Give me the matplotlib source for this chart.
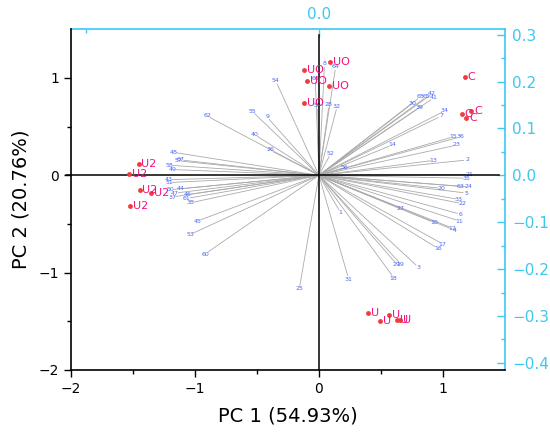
import matplotlib
matplotlib.use("Agg")
import matplotlib.pyplot as plt
import numpy as np

# ---- sample scores (PC1, PC2) ----
score_labels = ["UO", "UO", "UO", "UO", "UO",
                "C", "C", "C", "C",
                "U2", "U2", "U2", "U2", "U2",
                "U", "U", "U", "U", "U"]
score_pc1 = [0.088, -0.119, -0.094, 0.082, -0.122,
             1.177, 1.152, 1.226, 1.186,
             -1.453, -1.528, -1.445, -1.349, -1.520,
             0.396, 0.495, 0.565, 0.630, 0.654]
score_pc2 = [1.168, 1.086, 0.969, 0.914, 0.740,
             1.007, 0.634, 0.664, 0.586,
             0.120, 0.010, -0.147, -0.178, -0.315,
             -1.415, -1.494, -1.439, -1.483, -1.490]

# ---- variable loadings (PC1, PC2) ----
load_labels = ["8", "64", "66", "59", "28", "32", "54", "62", "55", "9", "40", "26", "52", "56",
               "30", "39", "68", "65", "42", "41", "34", "7", "15", "36", "14", "23", "13", "2",
               "21", "35", "20", "63", "24", "5", "33", "22", "27", "6", "11", "10", "12", "4",
               "17", "16", "1", "29", "19", "3", "18", "31", "25",
               "48", "57", "67", "58", "49", "43", "51", "50", "47", "44", "37", "46", "61",
               "38", "45", "53", "60"]
load_pc1 = [0.009, 0.027, -0.006, -0.002, 0.016, 0.029, -0.070, -0.182, -0.107, -0.083, -0.103, -0.076, 0.017, 0.038,
            0.152, 0.163, 0.165, 0.175, 0.185, 0.187, 0.205, 0.199, 0.219, 0.231, 0.117, 0.225, 0.186, 0.242,
            0.245, 0.241, 0.199, 0.231, 0.245, 0.241, 0.228, 0.234, 0.131, 0.231, 0.229, 0.187, 0.218, 0.221,
            0.202, 0.194, 0.033, 0.127, 0.133, 0.162, 0.122, 0.048, -0.032,
            -0.238, -0.229, -0.226, -0.244, -0.239, -0.245, -0.245, -0.242, -0.235, -0.225, -0.239, -0.214, -0.215,
            -0.209, -0.198, -0.210, -0.185]
load_pc2 = [0.230, 0.224, 0.199, 0.141, 0.143, 0.140, 0.195, 0.123, 0.131, 0.119, 0.083, 0.050, 0.040, 0.015,
            0.149, 0.140, 0.163, 0.163, 0.170, 0.161, 0.134, 0.123, 0.080, 0.080, 0.062, 0.063, 0.031, 0.032,
            0.002, -0.006, -0.027, -0.023, -0.024, -0.037, -0.050, -0.059, -0.067, -0.081, -0.095, -0.098, -0.110, -0.114,
            -0.143, -0.152, -0.073, -0.185, -0.184, -0.191, -0.213, -0.214, -0.235,
            0.048, 0.030, 0.032, 0.021, 0.012, -0.009, -0.015, -0.030, -0.037, -0.028, -0.045, -0.040, -0.048,
            -0.057, -0.095, -0.123, -0.163]

xlabel = "PC 1 (54.93%)"
ylabel = "PC 2 (20.76%)"

CYAN = "#3cc8f0"
RED = "#f03c3c"
PINK = "#f0147d"
BLUE = "#4a66f5"
GREY = "#aaaaaa"

fig = plt.figure(figsize=(5.5, 4.33), dpi=100)
pos = [0.1285, 0.1455, 0.79, 0.7868]
ax2 = fig.add_axes(pos)          # loadings axes (top / right)
ax = fig.add_axes(pos)           # scores axes (bottom / left)
ax.set_zorder(ax2.get_zorder() + 1)
ax.patch.set_visible(False)

# scores axes
ax.set_xlim(-2, 1.5)
ax.set_ylim(-2, 1.5)
ax.set_xticks([-2, -1, 0, 1])
ax.set_yticks([-2, -1, 0, 1])
ax.set_xticks([-1.5, -0.5, 0.5], minor=True)
ax.set_yticks([-1.5, -0.5, 0.5], minor=True)
ax.tick_params(which="major", direction="out", length=5, width=1, labelsize=10)
ax.tick_params(which="minor", direction="out", length=3, width=1)
for s in ["top", "right"]:
    ax.spines[s].set_visible(False)
for s in ["left", "bottom"]:
    ax.spines[s].set_linewidth(1.2)
ax.set_xlabel(xlabel, fontsize=14, labelpad=8)
ax.set_ylabel(ylabel, fontsize=14, labelpad=6)

# zero lines
ax.plot([-2.04, 1.45], [0, 0], color="black", lw=1.1, clip_on=False, zorder=1)
ax.plot([0, 0], [-2, 1.44], color="black", lw=1.1, clip_on=False, zorder=1)

# loadings axes
k = 4.818
ax2.set_xlim(-2 / k, 1.5 / k)
ax2.set_ylim(-2 / k, 1.5 / k)
ax2.xaxis.tick_top()
ax2.yaxis.tick_right()
ax2.set_xticks([0.0])
ax2.set_xticklabels(["0.0"])
ax2.set_xticks([-0.39], minor=True)
ax2.set_yticks([-0.4, -0.3, -0.2, -0.1, 0.0, 0.1, 0.2, 0.3])
ax2.set_yticklabels(["\u22120.4", "\u22120.3", "\u22120.2", "\u22120.1", "0.0", "0.1", "0.2", "0.3"])
ax2.set_yticks([-0.35, -0.25, -0.15, -0.05, 0.05, 0.15, 0.25], minor=True)
ax2.tick_params(which="major", direction="in", length=6, width=1, colors=CYAN, labelsize=11, pad=5)
ax2.tick_params(which="minor", direction="in", length=3, width=1, colors=CYAN)
for s in ["left", "bottom"]:
    ax2.spines[s].set_visible(False)
for s in ["top", "right"]:
    ax2.spines[s].set_color(CYAN)
    ax2.spines[s].set_linewidth(1.2)

for lab, lx, ly in zip(load_labels, load_pc1, load_pc2):
    ax2.plot([0, lx], [0, ly], color=GREY, lw=0.6, zorder=2)
    ang = np.arctan2(ly, lx)
    ax2.annotate(lab, (lx, ly), xytext=(2.5 * np.cos(ang), 2.5 * np.sin(ang)),
                 textcoords="offset points", ha="center", va="center",
                 fontsize=4.5, color=BLUE, zorder=3)

# scores
ax.plot(score_pc1, score_pc2, "o", color=RED, markersize=3.5, markeredgewidth=0, zorder=5)
for lab, x, y in zip(score_labels, score_pc1, score_pc2):
    ax.annotate(lab, (x, y), xytext=(2, 0), textcoords="offset points",
                ha="left", va="center", fontsize=8, color=PINK, zorder=6)

fig.savefig("out.png", dpi=100)
